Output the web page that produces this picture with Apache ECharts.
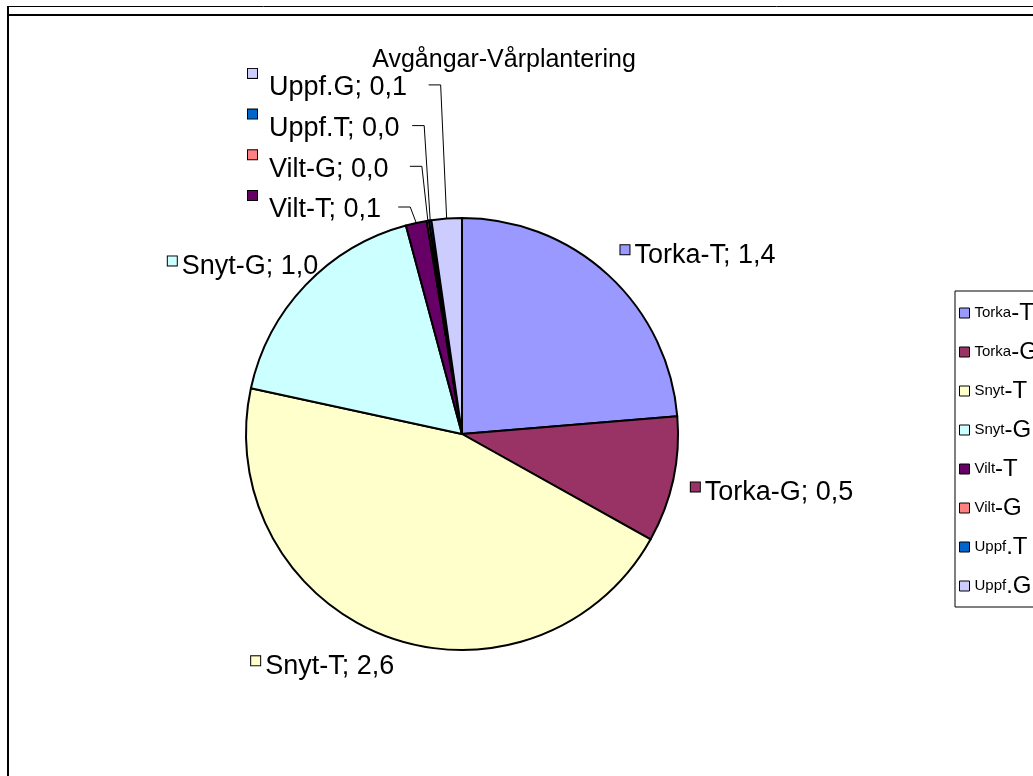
<!DOCTYPE html>
<html>
<head>
<meta charset="utf-8">
<script src="https://cdn.jsdelivr.net/npm/echarts@6/dist/echarts.min.js"></script>
<style>
html,body{margin:0;padding:0;background:#fff;}
#chart{width:1033px;height:776px;}
</style>
</head>
<body>
<div id="chart"></div>
<script>
const chartTitle = 'Avgångar-Vårplantering';
const categories = ['Torka-T', 'Torka-G', 'Snyt-T', 'Snyt-G', 'Vilt-T', 'Vilt-G', 'Uppf.T', 'Uppf.G'];
const values = [1.36, 0.54, 2.60, 1.00, 0.09, 0.01, 0.01, 0.13];
const colors = ['#9999FF', '#993366', '#FFFFCC', '#CCFFFF', '#660066', '#FF8080', '#0066CC', '#CCCCFF'];

const FONT = '"Liberation Sans", Arial, sans-serif';
const CX = 462, CY = 434, R = 216;
// fine label placement tweaks (Excel "best fit" quirks), in px
const labelShiftX = [0, 2, -27.5, 12.5, 0, 0, 0, 0];
const labelShiftY = [0, 7, 5, 0, 0, 0, 0, 0];
const total = values.reduce((a, b) => a + b, 0);
const isSmall = values.map(v => v / total < 0.05);
const firstSmall = isSmall.indexOf(true);

function midAngle(i) {
  let s = 0;
  for (let k = 0; k < i; k++) s += values[k];
  return (s + values[i] / 2) / total * 2 * Math.PI;
}
function fmt(v) { return v.toFixed(1).replace('.', ','); }

const rich = {
  sp: { width: 12 },
  sq: { width: 5 },
  t: { fontSize: 27, fontFamily: FONT, color: '#000', lineHeight: 38 },
  tb: { fontSize: 27, fontFamily: FONT, color: '#000', lineHeight: 20 }
};
colors.forEach((c, i) => {
  rich['b' + i] = { width: 9, height: 9, backgroundColor: c, borderColor: '#000', borderWidth: 1, verticalAlign: 'top', lineHeight: 9 };
});

const pieData = categories.map((name, i) => ({
  name: name,
  value: values[i],
  labelLine: { show: isSmall[i] }
}));

const chart = echarts.init(document.getElementById('chart'), null, { renderer: 'canvas' });
chart.setOption({
  backgroundColor: '#fff',
  animation: false,
  color: colors,
  title: {
    text: chartTitle,
    left: 504, top: 48, padding: 0, textAlign: 'center',
    textStyle: { fontSize: 25, fontWeight: 'normal', fontFamily: FONT, color: '#000' }
  },
  legend: {
    orient: 'vertical',
    left: 955, top: 291,
    padding: [10, 24, 9, 4],
    itemGap: 15,
    itemWidth: 10, itemHeight: 10,
    icon: 'rect',
    borderColor: '#000', borderWidth: 1,
    itemStyle: { borderColor: '#000', borderWidth: 1 },
    data: categories,
    formatter: function (name) {
      const cut = name.length - 2;
      return '{s|' + name.slice(0, cut) + '}{l|' + name.slice(cut) + '}';
    },
    textStyle: {
      color: '#000', fontFamily: FONT,
      rich: {
        s: { fontSize: 15, fontFamily: FONT, color: '#000', lineHeight: 24 },
        l: { fontSize: 24, fontFamily: FONT, color: '#000', lineHeight: 24 }
      }
    }
  },
  graphic: [
    { type: 'line', shape: { x1: 7, y1: 6.5, x2: 1033, y2: 6.5 }, style: { stroke: '#000', lineWidth: 1 } },
    { type: 'line', shape: { x1: 8, y1: 15, x2: 1033, y2: 15 }, style: { stroke: '#000', lineWidth: 2 } },
    { type: 'line', shape: { x1: 8, y1: 6, x2: 8, y2: 776 }, style: { stroke: '#000', lineWidth: 2 } }
  ],
  series: [{
    type: 'pie',
    center: [CX, CY],
    radius: R,
    startAngle: 90,
    clockwise: true,
    avoidLabelOverlap: false,
    itemStyle: { borderColor: '#000', borderWidth: 2 },
    emphasis: { disabled: true },
    label: {
      show: true,
      position: 'outside',
      formatter: function (p) {
        const small = isSmall[p.dataIndex];
        return '{b' + p.dataIndex + '|}{' + (small ? 'sp' : 'sq') + '|}{' + (small ? 't' : 'tb') + '|' +
          p.name + '; ' + fmt(p.value) + '}';
      },
      rich: rich
    },
    labelLine: { show: true, length: 10, length2: 10, lineStyle: { color: '#000', width: 1 } },
    labelLayout: function (p) {
      const i = p.dataIndex;
      const a = midAngle(i);
      const w = p.labelRect.width;
      const ex = CX + R * Math.sin(a), ey = CY - R * Math.cos(a);
      if (!isSmall[i]) {
        const px = CX + (R + 12) * Math.sin(a), py = CY - (R + 12) * Math.cos(a);
        const k = Math.max(-1, Math.min(1, 1.6 * Math.sin(a)));
        const cx = px + k * w / 2 + (k < 0 ? 10 : 4) + labelShiftX[i];
        const cy = py - Math.cos(a) * 30 / 2 + labelShiftY[i];
        return { x: cx - w / 2, y: cy, align: 'left', verticalAlign: 'middle' };
      }
      const rank = i - firstSmall;
      const y = CY - R - 8 - 40.7 * rank;
      const col = ex - 6;
      return {
        x: CX - R + 2, y: y, align: 'left', verticalAlign: 'middle',
        labelLinePoints: [[ex, ey], [col, y - 3], [col - 12, y - 3]]
      };
    },
    data: pieData
  }]
});
</script>
</body>
</html>
